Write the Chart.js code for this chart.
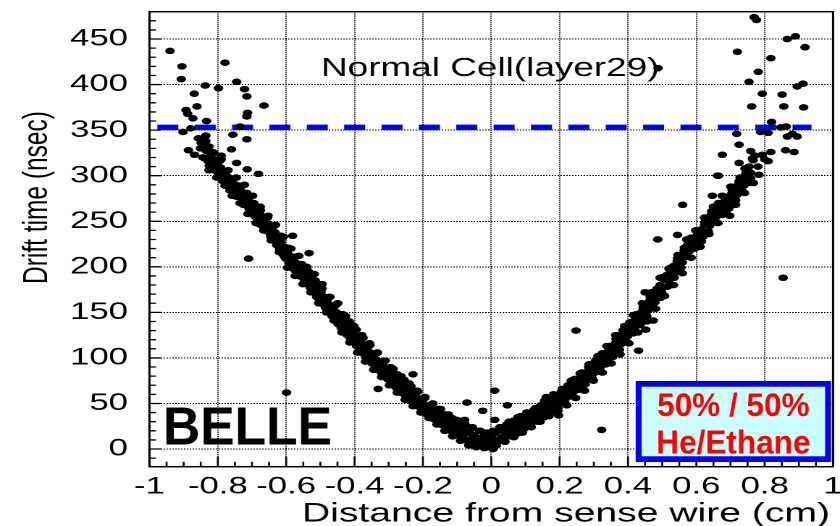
<!DOCTYPE html>
<html>
<head>
<meta charset="utf-8">
<script src="https://cdn.jsdelivr.net/npm/chart.js@4.4.1/dist/chart.umd.min.js"></script>
<style>
  html, body { margin: 0; padding: 0; background: #fff; overflow: hidden; }
  /* the plot is laid out 580 wide and stretched sideways to the window */
  #wrap { width: 580px; height: 526px; transform: scaleX(1.448276); transform-origin: 0 0; }
</style>
</head>
<body>
<div id="wrap"><canvas id="drift" width="580" height="526"></canvas></div>
<script>
const xTicks = [-1, -0.8, -0.6, -0.4, -0.2, 0, 0.2, 0.4, 0.6, 0.8, 1];
const yTicks = [0, 50, 100, 150, 200, 250, 300, 350, 400, 450];

// cut on drift time, drawn as the dashed line
const cutTime = 353;
const cutFrom = -0.977;
const cutTo = 0.937;

// [distance (cm), drift time (nsec)]
const bandLeft = [
  [-0.842,330],[-0.838,319],[-0.833,327],[-0.828,316],[-0.822,322],[-0.817,311],[-0.812,318],[-0.806,306],
  [-0.801,314],[-0.797,303],[-0.792,309],[-0.786,298],[-0.781,305],[-0.776,292],[-0.772,299],[-0.767,289],
  [-0.762,294],[-0.757,284],[-0.752,291],[-0.747,281],[-0.743,288],[-0.738,277],[-0.733,284],[-0.728,272],
  [-0.724,280],[-0.719,268],[-0.714,276],[-0.709,264],[-0.705,271],[-0.700,259],[-0.696,267],[-0.691,255],
  [-0.687,262],[-0.682,251],[-0.678,258],[-0.673,246],[-0.669,255],[-0.664,243],[-0.660,251],[-0.655,239],
  [-0.651,247],[-0.646,236],[-0.642,243],[-0.637,229],[-0.633,238],[-0.628,224],[-0.624,233],[-0.619,219],
  [-0.615,227],[-0.610,214],[-0.606,222],[-0.601,209],[-0.597,216],[-0.592,204],[-0.588,212],[-0.583,200],
  [-0.579,208],[-0.574,196],[-0.570,204],[-0.565,193],[-0.561,200],[-0.556,189],[-0.552,197],[-0.547,185],
  [-0.543,193],[-0.538,181],[-0.534,189],[-0.529,177],[-0.525,185],[-0.520,172],[-0.516,180],[-0.511,167],
  [-0.507,176],[-0.502,163],[-0.498,172],[-0.493,159],[-0.489,167],[-0.484,155],[-0.480,163],[-0.475,150],
  [-0.471,158],[-0.466,146],[-0.462,154],[-0.457,141],[-0.453,150],[-0.448,137],[-0.444,146],[-0.439,133],
  [-0.435,141],[-0.430,129],[-0.426,137],[-0.421,125],[-0.417,133],[-0.412,121],[-0.408,129],[-0.403,117],
  [-0.399,125],[-0.394,113],[-0.390,121],[-0.385,109],[-0.381,117],[-0.376,105],[-0.372,114],[-0.367,101],
  [-0.363,110],[-0.358,98],[-0.354,106],[-0.349,94],[-0.345,102],[-0.340,91],[-0.336,98],[-0.331,87],
  [-0.327,95],[-0.322,84],[-0.318,92],[-0.313,80],[-0.309,88],[-0.304,77],[-0.300,85],[-0.295,74],
  [-0.291,81],[-0.286,70],[-0.282,78],[-0.277,67],[-0.273,75],[-0.268,64],[-0.264,72],[-0.259,61],
  [-0.255,69],[-0.250,58],[-0.246,66],[-0.241,55],[-0.237,63],[-0.232,52],[-0.228,60],[-0.223,50],
  [-0.219,57],[-0.214,47],[-0.210,54],[-0.205,44],[-0.201,51],[-0.196,41],[-0.192,48],[-0.187,38],
  [-0.183,46],[-0.178,36],[-0.174,43],[-0.169,33],[-0.165,40],[-0.160,31],[-0.156,38],[-0.151,29],
  [-0.147,35],[-0.142,26],[-0.138,33],[-0.133,24],[-0.129,31],[-0.124,22],[-0.120,29],[-0.115,19],
  [-0.111,27],[-0.106,17],[-0.102,25],[-0.097,15],[-0.093,23],[-0.088,13],[-0.084,21],[-0.079,11],
  [-0.075,19],[-0.070,9],[-0.066,18],[-0.061,7],[-0.057,16],[-0.052,9],[-0.048,14],[-0.043,6],
  [-0.039,12],[-0.034,4],[-0.030,11],[-0.025,8],[-0.021,14],[-0.016,5],[-0.012,10],[-0.007,3],[-0.003,12]
];
const coreLeft = [
  [-0.835,332],[-0.825,311],[-0.815,325],[-0.805,305],[-0.795,316],[-0.785,294],[-0.775,305],[-0.765,284],
  [-0.755,297],[-0.745,277],[-0.735,289],[-0.725,268],[-0.715,281],[-0.705,260],[-0.695,270],[-0.685,249],
  [-0.675,262],[-0.665,243],[-0.655,254],[-0.645,233],[-0.635,245],[-0.625,223],[-0.615,234],[-0.605,211],
  [-0.595,221],[-0.585,199],[-0.575,211],[-0.565,191],[-0.555,203],[-0.545,183],[-0.535,195],[-0.525,174],
  [-0.515,185],[-0.505,165],[-0.495,176],[-0.485,155],[-0.475,167],[-0.465,147],[-0.455,158],[-0.445,137],
  [-0.435,148],[-0.425,129],[-0.415,140],[-0.405,120],[-0.395,131],[-0.385,111],[-0.375,122],[-0.365,103],
  [-0.355,114],[-0.345,94],[-0.335,105],[-0.325,87],[-0.315,97],[-0.305,79],[-0.295,90],[-0.285,72],
  [-0.275,82],[-0.265,66],[-0.255,76],[-0.245,59],[-0.235,69],[-0.225,53],[-0.215,63],[-0.205,46],
  [-0.195,56],[-0.185,39],[-0.175,49],[-0.165,33],[-0.155,44],[-0.145,28],[-0.135,38],[-0.125,22],
  [-0.115,34],[-0.105,19],[-0.095,30],[-0.085,14],[-0.075,26],[-0.065,10],[-0.055,23],[-0.045,8],
  [-0.035,20],[-0.025,5],[-0.015,18],[-0.005,6]
];
const edgeLeft = [
  [-0.835,338],[-0.826,306],[-0.815,326],[-0.803,298],[-0.790,318],[-0.779,289],[-0.770,306],[-0.758,278],
  [-0.746,298],[-0.735,270],[-0.722,290],[-0.712,258],[-0.698,278],[-0.688,248],[-0.676,266],[-0.666,240],
  [-0.653,256],[-0.644,229],[-0.631,246],[-0.620,216],[-0.608,233],[-0.596,199],[-0.586,220],[-0.574,190],
  [-0.563,212],[-0.551,181],[-0.540,200],[-0.528,172],[-0.518,192],[-0.505,160],[-0.495,181],[-0.482,150],
  [-0.472,167],[-0.460,141],[-0.449,160],[-0.437,128],[-0.426,146],[-0.414,117],[-0.402,135],[-0.391,106],
  [-0.379,125],[-0.368,96],[-0.356,116],[-0.344,87],[-0.333,106],[-0.321,79],[-0.310,97],[-0.298,70],
  [-0.287,88],[-0.275,62],[-0.264,80],[-0.252,54],[-0.240,72],[-0.229,47],[-0.217,64],[-0.206,40],
  [-0.194,57],[-0.182,34],[-0.171,50],[-0.159,27],[-0.148,44],[-0.136,20],[-0.125,38],[-0.113,14],
  [-0.101,32],[-0.090,9],[-0.078,28],[-0.066,4],[-0.055,24],[-0.044,2],[-0.032,20],[-0.020,1],[-0.010,18]
];
const bandRight = [
  [0.004,16],[0.009,8],[0.014,18],[0.019,10],[0.024,20],[0.029,12],[0.034,21],[0.039,14],
  [0.044,23],[0.049,16],[0.054,25],[0.059,18],[0.064,27],[0.069,20],[0.074,29],[0.079,22],
  [0.084,31],[0.089,24],[0.094,33],[0.099,27],[0.104,35],[0.109,29],[0.114,37],[0.119,31],
  [0.124,39],[0.129,33],[0.134,41],[0.139,35],[0.144,43],[0.149,38],[0.154,46],[0.159,40],
  [0.164,49],[0.169,43],[0.174,51],[0.179,45],[0.184,54],[0.189,48],[0.194,57],[0.199,50],
  [0.204,59],[0.209,53],[0.214,62],[0.219,56],[0.224,66],[0.229,59],[0.234,69],[0.239,62],
  [0.244,73],[0.249,66],[0.254,76],[0.259,69],[0.264,79],[0.269,72],[0.274,82],[0.279,76],
  [0.284,86],[0.289,79],[0.294,89],[0.299,83],[0.304,93],[0.309,87],[0.314,97],[0.319,90],
  [0.324,101],[0.329,94],[0.334,105],[0.339,98],[0.344,109],[0.349,102],[0.354,113],[0.359,106],
  [0.364,117],[0.369,110],[0.374,122],[0.379,115],[0.384,126],[0.389,119],[0.394,131],[0.399,124],
  [0.404,135],[0.409,128],[0.414,140],[0.419,133],[0.424,144],[0.429,137],[0.434,149],[0.439,142],
  [0.444,154],[0.449,147],[0.454,159],[0.459,152],[0.464,163],[0.469,156],[0.474,168],[0.479,161],
  [0.484,173],[0.489,166],[0.494,180],[0.499,172],[0.504,186],[0.509,178],[0.514,191],[0.519,184],
  [0.524,196],[0.529,189],[0.534,201],[0.539,194],[0.544,206],[0.549,199],[0.554,212],[0.559,205],
  [0.564,218],[0.569,211],[0.574,224],[0.579,217],[0.584,228],[0.589,221],[0.594,232],[0.599,225],
  [0.604,236],[0.609,229],[0.614,241],[0.619,233],[0.624,246],[0.629,238],[0.634,252],[0.639,245],
  [0.644,258],[0.649,251],[0.654,263],[0.659,255],[0.664,266],[0.669,259],[0.674,269],[0.679,262],
  [0.684,273],[0.689,266],[0.694,276],[0.699,270],[0.704,281],[0.709,274],[0.714,286],[0.719,279],
  [0.724,291],[0.729,284],[0.734,296],[0.739,289],[0.744,300],[0.749,293],[0.754,304],[0.759,297]
];
const coreRight = [
  [0.005,20],[0.015,6],[0.025,24],[0.035,10],[0.045,27],[0.055,14],[0.065,31],[0.075,17],
  [0.085,36],[0.095,22],[0.105,40],[0.115,26],[0.125,43],[0.135,30],[0.145,48],[0.155,35],
  [0.165,53],[0.175,40],[0.185,58],[0.195,45],[0.205,63],[0.215,51],[0.225,70],[0.235,58],
  [0.245,77],[0.255,65],[0.265,84],[0.275,71],[0.285,90],[0.295,78],[0.305,97],[0.315,85],
  [0.325,105],[0.335,93],[0.345,113],[0.355,101],[0.365,121],[0.375,109],[0.385,130],[0.395,118],
  [0.405,139],[0.415,127],[0.425,148],[0.435,136],[0.445,157],[0.455,146],[0.465,167],[0.475,155],
  [0.485,176],[0.495,166],[0.505,189],[0.515,178],[0.525,199],[0.535,188],[0.545,209],[0.555,199],
  [0.565,221],[0.575,211],[0.585,232],[0.595,220],[0.605,240],[0.615,228],[0.625,249],[0.635,239],
  [0.645,261],[0.655,250],[0.665,270],[0.675,257],[0.685,277],[0.695,264],[0.705,284],[0.715,273],
  [0.725,294],[0.735,283],[0.745,303],[0.755,292]
];
const edgeRight = [
  [0.015,4],[0.027,24],[0.040,8],[0.052,30],[0.066,13],[0.078,35],[0.091,18],[0.104,40],
  [0.117,24],[0.130,45],[0.143,30],[0.156,53],[0.169,36],[0.182,60],[0.195,42],[0.208,66],
  [0.221,48],[0.234,75],[0.247,56],[0.260,83],[0.273,64],[0.286,93],[0.299,75],[0.312,102],
  [0.325,84],[0.338,113],[0.351,94],[0.364,125],[0.377,104],[0.390,135],[0.403,116],[0.416,147],
  [0.429,128],[0.442,160],[0.455,140],[0.468,172],[0.481,154],[0.494,188],[0.507,168],[0.520,198],
  [0.533,180],[0.546,213],[0.559,193],[0.572,230],[0.585,210],[0.598,240],[0.611,222],[0.624,254],
  [0.637,236],[0.650,266],[0.663,248],[0.676,278],[0.689,258],[0.702,288],[0.715,268],[0.728,298],
  [0.741,281],[0.754,310],[0.767,292]
];
const strayLeft = [
  [-0.940,437],[-0.905,420],[-0.907,406],[-0.779,424],[-0.837,399],[-0.798,396],[-0.745,403],[-0.722,395],
  [-0.715,387],[-0.665,377],[-0.869,390],[-0.861,376],[-0.893,372],[-0.888,368],[-0.873,363],[-0.833,360],
  [-0.715,365],[-0.713,369],[-0.902,348],[-0.879,352],[-0.756,345],[-0.715,340],[-0.735,354],[-0.857,341],
  [-0.835,344],[-0.886,328],[-0.868,323],[-0.844,320],[-0.760,329],[-0.745,314],[-0.818,308],[-0.714,307],
  [-0.681,302],[-0.760,291],[-0.849,336],[-0.826,332],[-0.812,325],[-0.851,330],[-0.790,322],
  [-0.710,209],[-0.581,234],[-0.533,215],[-0.679,247],[-0.599,62],[-0.331,66],[-0.229,82]
];
const strayMid = [
  [-0.071,51],[0.010,64],[-0.025,42],[-0.078,32],[0.047,48],[0.005,0],[0.010,32],[0.003,3]
];
const strayRight = [
  [0.248,130],[0.197,37],[0.161,57],[0.323,21],[0.431,108],[0.452,131],[0.450,172],[0.474,141],
  [0.487,230],[0.545,235],[0.560,268],[0.647,278],[0.662,300],[0.698,256],[0.783,301],[0.854,188],
  [0.488,418],
  [0.769,474],[0.776,471],[0.866,450],[0.890,453],[0.918,441],[0.720,436],[0.818,429],[0.781,414],
  [0.754,403],[0.895,398],[0.912,401],[0.793,390],[0.851,389],[0.762,376],[0.856,376],[0.914,375],
  [0.820,359],[0.788,348],[0.810,347],[0.847,353],[0.863,354],[0.866,343],[0.881,346],[0.895,343],
  [0.718,346],[0.725,334],[0.676,323],[0.759,327],[0.793,323],[0.818,326],[0.861,328],[0.886,326],
  [0.766,317],[0.810,316],[0.764,319],[0.725,314],[0.742,308],[0.665,300],[0.759,303],[0.749,292],
  [0.701,288],[0.771,322],[0.780,310],[0.800,318]
];

const hits = [bandLeft, coreLeft, edgeLeft, bandRight, coreRight, edgeRight, strayLeft, strayMid, strayRight]
  .flat()
  .map(([d, t]) => ({ x: d, y: t }));

const FONT = "'Liberation Sans', Arial, Helvetica, sans-serif";

// frame, inward ticks and the annotations
const decorations = {
  id: 'decorations',
  afterDatasetsDraw(chart) {
    const { ctx, chartArea: a, scales: { x, y } } = chart;
    ctx.save();
    ctx.strokeStyle = '#000';
    ctx.lineWidth = 1.3;
    ctx.beginPath();
    for (let i = -20; i <= 20; i++) {
      const px = x.getPixelForValue(i / 20);
      const len = i % 4 === 0 ? 10 : 5;
      ctx.moveTo(px, a.bottom);
      ctx.lineTo(px, a.bottom - len);
    }
    for (let i = -1; i <= 48; i++) {
      const py = y.getPixelForValue(i * 10);
      const len = i % 5 === 0 ? 8 : 4.5;
      ctx.moveTo(a.left, py);
      ctx.lineTo(a.left + len, py);
    }
    ctx.stroke();
    ctx.lineWidth = 1.5;
    ctx.strokeRect(a.left, a.top, a.right - a.left, a.bottom - a.top);

    ctx.fillStyle = '#000';
    ctx.textBaseline = 'alphabetic';

    ctx.font = `25.5px ${FONT}`;
    ctx.textAlign = 'left';
    ctx.fillText('Normal Cell(layer29)', 221.6, 76);

    ctx.font = `27px ${FONT}`;
    ctx.textAlign = 'right';
    ctx.fillText('Distance from sense wire (cm)', 573.1, 521.5);

    ctx.save();
    ctx.translate(32.5, 197.5);
    ctx.rotate(-Math.PI / 2);
    ctx.font = `24.5px ${FONT}`;
    ctx.textAlign = 'center';
    ctx.fillText('Drift time (nsec)', 0, 0);
    ctx.restore();

    // experiment tag
    ctx.save();
    ctx.translate(112.5, 444.3);
    ctx.scale(0.66, 1);
    ctx.font = `bold 54px ${FONT}`;
    ctx.textAlign = 'left';
    ctx.fillText('BELLE', 0, 0);
    ctx.restore();

    // gas mixture box
    const bx = 438.9, by = 381, bw = 134.9, bh = 81;
    ctx.fillStyle = '#0000ff';
    ctx.fillRect(bx, by, bw, bh);
    ctx.fillStyle = '#ccffff';
    ctx.fillRect(bx + 4.1, by + 5.7, bw - 8.2, bh - 11.4);
    ctx.fillStyle = '#ff0000';
    ctx.textAlign = 'center';
    ctx.save();
    ctx.translate(bx + bw / 2, 416);
    ctx.scale(0.68, 1);
    ctx.font = `bold 32px ${FONT}`;
    ctx.fillText('50% / 50%', 0, 0);
    ctx.restore();
    ctx.save();
    ctx.translate(bx + bw / 2, 453.3);
    ctx.scale(0.66, 1);
    ctx.font = `bold 33px ${FONT}`;
    ctx.fillText('He/Ethane', 0, 0);
    ctx.restore();

    ctx.restore();
  }
};

new Chart(document.getElementById('drift'), {
  type: 'scatter',
  data: {
    datasets: [
      {
        data: hits,
        backgroundColor: '#000',
        borderWidth: 0,
        pointRadius: 3.3,
        pointHoverRadius: 3.3,
        order: 1
      },
      {
        type: 'line',
        data: [{ x: cutFrom, y: cutTime }, { x: cutTo, y: cutTime }],
        borderColor: '#0000ff',
        borderWidth: 5.5,
        borderDash: [14.5, 11.3],
        borderCapStyle: 'butt',
        pointRadius: 0,
        fill: false,
        order: 2
      }
    ]
  },
  options: {
    responsive: false,
    devicePixelRatio: 2,
    animation: false,
    layout: { padding: { top: 11.7, right: 4.8, left: 0, bottom: 0 } },
    plugins: {
      legend: { display: false },
      tooltip: { enabled: false }
    },
    scales: {
      x: {
        type: 'linear',
        min: -1,
        max: 1,
        afterBuildTicks: (scale) => { scale.ticks = xTicks.map(v => ({ value: v })); },
        afterFit: (scale) => { scale.height = 59.3; scale.paddingLeft = 0; scale.paddingRight = 0; },
        grid: { color: '#000', lineWidth: 1, drawTicks: false },
        border: { display: false, dash: [1, 1] },
        ticks: {
          autoSkip: false,
          maxRotation: 0,
          minRotation: 0,
          padding: 6,
          color: '#000',
          font: { family: FONT, size: 24 },
          callback: (v) => String(v)
        }
      },
      y: {
        type: 'linear',
        min: -19.4,
        max: 480,
        afterBuildTicks: (scale) => { scale.ticks = yTicks.map(v => ({ value: v })); },
        afterFit: (scale) => { scale.width = 103.2; scale.paddingTop = 0; scale.paddingBottom = 0; },
        grid: { color: '#000', lineWidth: 1, drawTicks: false },
        border: { display: false, dash: [1, 1] },
        ticks: {
          padding: 14.8,
          color: '#000',
          font: { family: FONT, size: 24 },
          callback: (v) => String(v)
        }
      }
    }
  },
  plugins: [decorations]
});
</script>
</body>
</html>
